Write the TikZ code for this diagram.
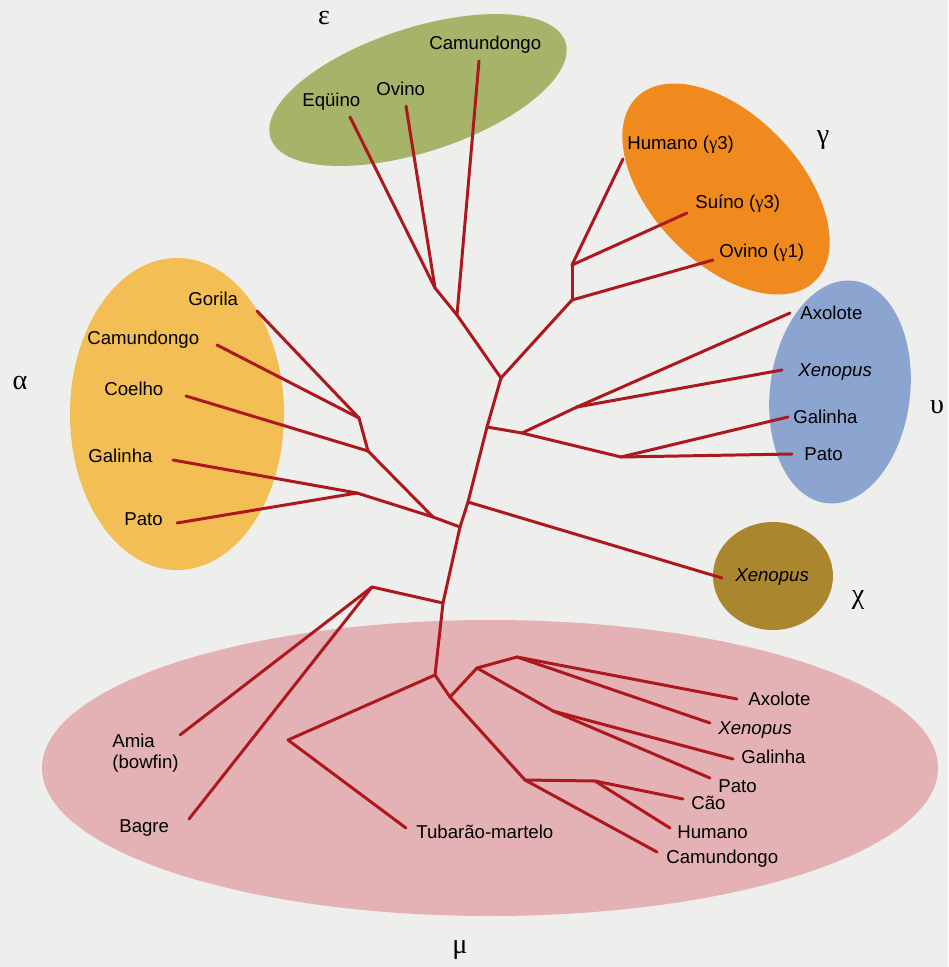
\documentclass[tikz,border=0pt]{standalone}
\usepackage{fontspec}
\setmainfont{Liberation Sans}
\newfontfamily\greekfont{Liberation Serif}
\usepackage{tikz}
\usetikzlibrary{calc}
\definecolor{paper}{RGB}{238,238,236}
\definecolor{branchred}{RGB}{172,24,30}
\definecolor{epsgreen}{RGB}{166,180,106}
\definecolor{gamorange}{RGB}{240,138,30}
\definecolor{upsblue}{RGB}{140,164,208}
\definecolor{chibrown}{RGB}{170,134,46}
\definecolor{alpyellow}{RGB}{243,190,84}
\definecolor{mupink}{RGB}{228,178,180}

\begin{document}
\begin{tikzpicture}[x=0.02cm,y=-0.02cm]
\tikzstyle{every node}=[font=\fontsize{10.6}{12}\selectfont, inner sep=0pt]
\tikzstyle{limb}=[draw=branchred, line width=1.7pt, line join=round, line cap=round]
\tikzstyle{taxon}=[anchor=west]
\tikzstyle{classlbl}=[font=\greekfont\fontsize{16}{17}\selectfont]

	\useasboundingbox (0,0) rectangle (948,967);
	\fill[paper] (0,0) rectangle (948,967);

	% classes
	\fill[mupink] (490,768) ellipse [x radius=448, y radius=148];
	\fill[alpyellow] (177,414) ellipse [x radius=107, y radius=156];
	\fill[epsgreen, rotate around={18:(418,90)}] (418,90) ellipse [x radius=155, y radius=62];
	\fill[gamorange, rotate around={-46:(726,189)}] (726,189) ellipse [x radius=128, y radius=74];
	\fill[upsblue, rotate around={-7:(840,392)}] (840,392) ellipse [x radius=70, y radius=112];
	\fill[chibrown] (773,576) ellipse [x radius=60, y radius=54];

	\node[classlbl] (eps) at (324,18) {ε};
	\node[classlbl] (gam) at (823,140) {γ};
	\node[classlbl] (alp) at (20,383) {α};
	\node[classlbl] (ups) at (937,407) {υ};
	\node[classlbl] (chi) at (858,600) {χ};
	\node[classlbl] (mu) at (460,950) {μ};

	% trunk
	\coordinate (A) at (501,378);
	\coordinate (B) at (487,427);
	\coordinate (C) at (468,502);
	\coordinate (D) at (460,527);
	\coordinate (E) at (443,603);
	\coordinate (F) at (435,675);
	\coordinate (G) at (450,697);

	% epsilon
	\coordinate (e1) at (435,288);
	\coordinate (e2) at (457,315);
	\coordinate (eEq) at (350,117);
	\coordinate (eOv) at (406,106);
	\coordinate (eCm) at (479,61);

	% gamma
	\coordinate (g1) at (572,300);
	\coordinate (g2) at (572,265);
	\coordinate (gHu) at (623,159);
	\coordinate (gSu) at (687,213);
	\coordinate (gOv) at (713,260);

	% upsilon
	\coordinate (u1) at (522,433);
	\coordinate (u2) at (577,407);
	\coordinate (u3) at (621,457);
	\coordinate (uAx) at (790,313);
	\coordinate (uXe) at (782,370);
	\coordinate (uGa) at (788,417);
	\coordinate (uPa) at (792,454);

	% chi
	\coordinate (xXe) at (722,578);

	% alpha
	\coordinate (a1) at (359,418);
	\coordinate (a2) at (368,451);
	\coordinate (a4) at (357,493);
	\coordinate (a5) at (433,517);
	\coordinate (aGo) at (257,311);
	\coordinate (aCa) at (217,345);
	\coordinate (aCo) at (186,396);
	\coordinate (aGa) at (173,460);
	\coordinate (aPa) at (177,523);

	% mu
	\coordinate (f1) at (372,587);
	\coordinate (fAm) at (180,735);
	\coordinate (fBa) at (189,819);
	\coordinate (t1) at (288,740);
	\coordinate (tTu) at (406,828);
	\coordinate (m1) at (477,668);
	\coordinate (m2) at (517,657);
	\coordinate (m3) at (553,711);
	\coordinate (m4) at (525,780);
	\coordinate (m5) at (595,781);
	\coordinate (mAx) at (737,699);
	\coordinate (mXe) at (710,723);
	\coordinate (mGa) at (733,759);
	\coordinate (mPa) at (710,778);
	\coordinate (mCa) at (683,799);
	\coordinate (mHu) at (670,828);
	\coordinate (mCm) at (657,852);

	\foreach \a/\b in {A/B,B/C,C/D,D/E,E/F,F/G,
		e1/eEq,e1/eOv,e1/e2,e2/eCm,e2/A,
		A/g1,g1/g2,g2/gHu,g2/gSu,g1/gOv,
		B/u1,u1/u3,u1/u2,u2/uAx,u2/uXe,u3/uGa,u3/uPa,
		C/xXe,
		D/a5,a5/a4,a5/a2,a2/a1,a1/aGo,a1/aCa,a2/aCo,a4/aGa,a4/aPa,
		E/f1,f1/fAm,f1/fBa,F/t1,t1/tTu,
		G/m1,m1/m2,m2/mAx,m2/mXe,m1/m3,m3/mGa,m3/mPa,
		G/m4,m4/m5,m5/mCa,m5/mHu,m4/mCm} {
		\draw[limb] (\a) -- (\b);
	}

	% labels
	\node[taxon] (lEq) at (302,102) {Eqüino};
	\node[taxon] (lOv) at (376,89) {Ovino};
	\node[taxon] (lCm) at (429,45) {Camundongo};

	\node[taxon] (lgHu) at (627,145) {Humano ({\greekfont γ}3)};
	\node[taxon] (lgSu) at (695,204) {Suíno ({\greekfont γ}3)};
	\node[taxon] (lgOv) at (719,253) {Ovino ({\greekfont γ}1)};

	\node[taxon] (luAx) at (800,313) {Axolote};
	\node[taxon] (luXe) at (798,372) {\itshape Xenopus};
	\node[taxon] (luGa) at (793,417) {Galinha};
	\node[taxon] (luPa) at (804,454) {Pato};

	\node[taxon] (lxXe) at (735,577) {\itshape Xenopus};

	\node[taxon] (laGo) at (188,299) {Gorila};
	\node[taxon] (laCa) at (87,340) {Camundongo};
	\node[taxon] (laCo) at (104,389) {Coelho};
	\node[taxon] (laGa) at (88,456) {Galinha};
	\node[taxon] (laPa) at (124,519) {Pato};

	\node[taxon, align=left] (lfAm) at (112,753) {Amia\\(bowfin)};
	\node[taxon] (lfBa) at (119,828) {Bagre};
	\node[taxon] (ltTu) at (416,832) {Tubarão-martelo};
	\node[taxon] (lmAx) at (748,699) {Axolote};
	\node[taxon] (lmXe) at (718,730) {\itshape Xenopus};
	\node[taxon] (lmGa) at (741,757) {Galinha};
	\node[taxon] (lmPa) at (718,786) {Pato};
	\node[taxon] (lmCa) at (691,803) {Cão};
	\node[taxon] (lmHu) at (677,832) {Humano};
	\node[taxon] (lmCm) at (666,859) {Camundongo};
\end{tikzpicture}
\end{document}
